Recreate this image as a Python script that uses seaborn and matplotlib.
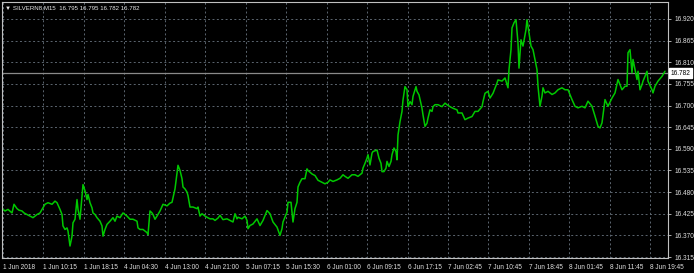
import numpy as np
import pandas as pd
import matplotlib
matplotlib.use("Agg")
import matplotlib.pyplot as plt
import matplotlib.transforms as mtransforms
import seaborn as sns

# ---- data -------------------------------------------------------------
bar = [3, 5, 8, 12, 14, 17, 19, 22, 24, 27, 30, 33, 37, 40, 43, 45, 48, 52, 55, 57,
       60, 62, 63, 65, 67, 68, 70, 72, 73, 75, 77, 78, 80, 82, 83, 85, 87, 88, 90, 92,
       93, 95, 97, 100, 102, 103, 105, 107, 110, 113, 115, 117, 120, 123, 127, 130, 133,
       137, 138, 140, 143, 147, 148, 150, 152, 153, 155, 157, 160, 163, 167,
       170, 172, 175, 178, 180, 182, 183, 185, 187, 188, 190, 193, 197, 198, 200, 202,
       205, 207, 210, 213, 215, 218, 220, 223, 227, 230, 233, 235, 237, 238, 242, 245,
       247, 248, 250, 253, 257, 260, 263, 267, 270, 273, 277, 280, 282, 283, 287, 288,
       291, 293, 295, 297, 298, 300, 302, 305, 307, 308, 312, 315, 318, 322, 325, 328,
       330, 333, 337, 340, 343, 345, 348, 352, 355, 358, 362, 363, 365, 367, 368, 370,
       372, 373, 377, 379, 381, 382, 384, 386, 387, 389, 391, 392, 394, 396, 397, 398,
       400, 402, 403, 405, 407, 408, 410, 412, 413, 416, 417, 419, 422, 423, 425, 427,
       428, 430, 432, 433, 435, 438, 442, 445, 447, 450, 453, 457, 458, 462, 465, 468,
       472, 475, 478, 482, 483, 485, 488, 490, 493, 497, 498,
       502, 505, 508, 509, 511, 512, 514, 516, 518, 519, 521, 523, 526, 527, 529, 531,
       533, 535, 537, 538, 540, 542, 543, 545, 548, 552, 555, 558, 562, 565, 568, 572,
       575, 578, 582, 585, 588, 592, 595, 598, 600, 602, 605, 608, 612, 615, 618, 622,
       625, 627, 628, 630, 632, 633, 635, 637, 638, 640, 642, 643, 645, 647, 648, 652,
       653, 655, 658, 662, 665]

price = [16.436, 16.432, 16.436, 16.427, 16.449, 16.438, 16.434, 16.432, 16.427, 16.423,
         16.419, 16.415, 16.423, 16.427, 16.440, 16.449, 16.453, 16.449, 16.457, 16.453,
         16.436, 16.423, 16.394, 16.385, 16.389, 16.381, 16.343, 16.368, 16.402, 16.411,
         16.461, 16.436, 16.411, 16.470, 16.499, 16.483, 16.461, 16.474, 16.453, 16.440,
         16.427, 16.423, 16.415, 16.406, 16.394, 16.368, 16.385, 16.398, 16.406, 16.415,
         16.406, 16.419, 16.415, 16.427, 16.419, 16.411, 16.411, 16.406, 16.389, 16.385,
         16.385, 16.377, 16.372, 16.432, 16.427, 16.423, 16.411, 16.419, 16.432, 16.449,
         16.445,
         16.452, 16.454, 16.488, 16.548, 16.535, 16.514, 16.493, 16.488, 16.480, 16.471,
         16.442, 16.442, 16.438, 16.442, 16.419, 16.425, 16.419, 16.416, 16.412, 16.412,
         16.408, 16.414, 16.421, 16.410, 16.412, 16.408, 16.404, 16.425, 16.412, 16.416,
         16.412, 16.419, 16.408, 16.387, 16.395, 16.399, 16.412, 16.395, 16.408, 16.433,
         16.425, 16.404, 16.391, 16.370, 16.387, 16.404, 16.429, 16.454, 16.454, 16.404,
         16.438, 16.454, 16.493, 16.505, 16.514, 16.514, 16.539, 16.535, 16.526, 16.522,
         16.510, 16.505, 16.501, 16.505,
         16.511, 16.507, 16.511, 16.515, 16.524, 16.520, 16.515, 16.524, 16.524, 16.520,
         16.528, 16.541, 16.553, 16.566, 16.575, 16.549, 16.579, 16.583, 16.587, 16.566,
         16.553, 16.532, 16.532, 16.541, 16.558, 16.545, 16.558, 16.575, 16.592, 16.583,
         16.562, 16.625, 16.659, 16.685, 16.714, 16.748, 16.740, 16.697, 16.710, 16.702,
         16.723, 16.748, 16.736, 16.727, 16.693, 16.676, 16.647, 16.655, 16.668, 16.689,
         16.685, 16.697, 16.702, 16.702, 16.697, 16.706, 16.702, 16.697, 16.693, 16.689,
         16.681, 16.681, 16.664, 16.668, 16.672, 16.685, 16.685, 16.697, 16.710, 16.731,
         16.736, 16.719, 16.731, 16.757, 16.765,
         16.762, 16.770, 16.745, 16.791, 16.842, 16.897, 16.910, 16.918, 16.859, 16.795,
         16.867, 16.851, 16.893, 16.918, 16.884, 16.851, 16.842, 16.817, 16.791, 16.749,
         16.698, 16.724, 16.745, 16.732, 16.736, 16.728, 16.732, 16.740, 16.745, 16.740,
         16.740, 16.715, 16.698, 16.694, 16.698, 16.694, 16.711, 16.698, 16.673, 16.647,
         16.643, 16.656, 16.715, 16.698, 16.719, 16.732, 16.766, 16.740, 16.749, 16.749,
         16.834, 16.842, 16.783, 16.817, 16.791, 16.766, 16.787, 16.740, 16.753, 16.762,
         16.774, 16.787, 16.762, 16.740, 16.732, 16.749, 16.762, 16.774, 16.787]

x_labels = ["1 Jun 2018", "1 Jun 10:15", "1 Jun 18:15", "4 Jun 04:30", "4 Jun 13:00",
            "4 Jun 21:00", "5 Jun 07:15", "5 Jun 15:30", "6 Jun 01:00", "6 Jun 09:15",
            "6 Jun 17:15", "7 Jun 02:45", "7 Jun 10:45", "7 Jun 18:45", "8 Jun 01:45",
            "8 Jun 11:45", "8 Jun 19:45"]
y_ticks = [16.315, 16.370, 16.425, 16.480, 16.535, 16.590, 16.645, 16.700,
           16.755, 16.810, 16.865, 16.920]
last_price = 16.782
title = "\u25bc SILVERN8,M15  16.795 16.795 16.782 16.782"

df = pd.DataFrame({"bar": bar, "price": price})

# ---- figure -----------------------------------------------------------
sns.set_style("dark")
plt.rcParams["font.family"] = ["Liberation Sans", "DejaVu Sans"]

FS = 4.7
W, H = 694, 273
fig = plt.figure(figsize=(W / 100, H / 100), dpi=100, facecolor="black")
ax = fig.add_axes([2 / W, 1 - 258 / H, (668 - 2) / W, (258 - 2) / H])
ax.set_facecolor("black")

sns.lineplot(data=df, x="bar", y="price", ax=ax, color="#00c800", lw=1.1,
             estimator=None, sort=False)

ax.set_xlim(2, 668)
ax.set_ylim(16.3125, 16.963)

tick_pos = 3 + 40.45 * np.arange(len(x_labels))
ax.set_xticks(tick_pos)
ax.set_xticklabels(x_labels, ha="left")
ax.set_yticks(y_ticks)
ax.set_yticklabels([f"{v:.3f}" for v in y_ticks])
ax.yaxis.tick_right()

ax.tick_params(axis="both", colors="#c8c8c8", labelcolor="#e0e0e0",
               labelsize=FS, length=2.5, width=0.6, direction="out")
ax.tick_params(axis="x", pad=2)
ax.tick_params(axis="y", pad=2)

ax.grid(True, color="#5c6670", lw=0.7, ls=(0, (2, 2.5)))
ax.set_axisbelow(True)
for s in ax.spines.values():
    s.set_visible(True)
    s.set_color("#c0c0c0")
    s.set_linewidth(0.8)

ax.set_xlabel("")
ax.set_ylabel("")

# current price line and tag
ax.axhline(last_price, color="#8a8a8a", lw=0.9, zorder=1.5)
trans = mtransforms.blended_transform_factory(ax.transAxes, ax.transData)
ax.text(1.004, last_price, f"{last_price:.3f}", transform=trans, fontsize=FS,
        color="black", va="center", ha="left",
        bbox=dict(boxstyle="square,pad=0.2", fc="white", ec="white"))

ax.text(0.004, 0.988, title, transform=ax.transAxes, fontsize=4.4,
        color="#e8e8e8", va="top", ha="left")

fig.savefig("out.png", dpi=100, facecolor="black")
